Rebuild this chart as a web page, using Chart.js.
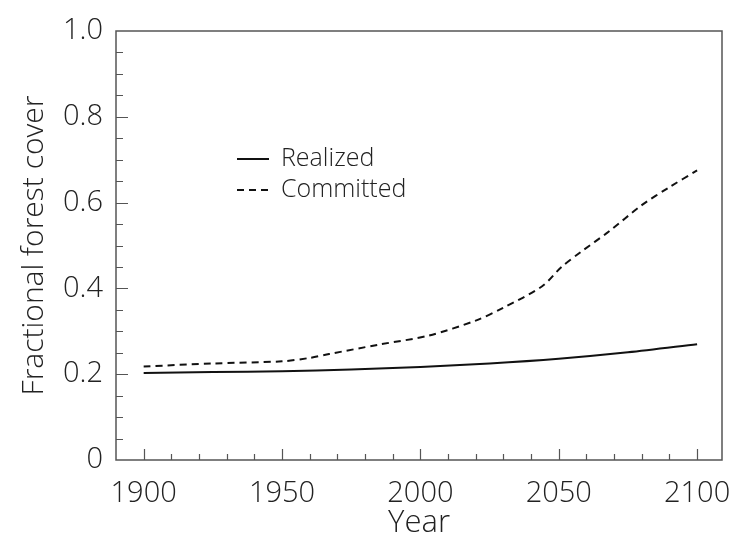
<!DOCTYPE html>
<html>
<head>
<meta charset="utf-8">
<script src="https://cdn.jsdelivr.net/npm/chart.js@4"></script>
<style>
  html, body { margin: 0; padding: 0; background: #fff; overflow: hidden; }
</style>
</head>
<body>
<canvas id="myChart" width="733" height="534"></canvas>
<script>
// data
const realizedYears = [1900, 1925, 1950, 1975, 2000, 2025, 2050, 2075, 2100];
const realizedValues = [0.203, 0.205, 0.207, 0.211, 0.217, 0.225, 0.236, 0.251, 0.270];

const committedYears = [1900, 1925, 1950, 1960, 1967, 1985, 2003, 2020, 2030, 2044, 2051, 2058, 2068, 2080, 2090, 2100];
const committedValues = [0.218, 0.225, 0.230, 0.238, 0.247, 0.269, 0.290, 0.325, 0.355, 0.405, 0.450, 0.485, 0.532, 0.594, 0.636, 0.675];

const xTicks = [1900, 1950, 2000, 2050, 2100];
const yTicks = [0, 0.2, 0.4, 0.6, 0.8, 1.0];
const xMinor = 10;
const yMinor = 0.05;

const seriesLabels = ["Realized", "Committed"];
const axisTitles = { x: "Year", y: "Fractional forest cover" };

const FONT = "'Open Sans', 'DejaVu Sans', sans-serif";
const INK = "#222";

const toPoints = (xs, ys) => xs.map((x, i) => ({ x: x, y: ys[i] }));

// frame + inward ticks + legend drawn inside the plot area
const frameAndTicks = {
  id: "frameAndTicks",
  afterDraw(chart) {
    const { ctx, chartArea: a, scales } = chart;
    const x = scales.x, y = scales.y;
    ctx.save();
    ctx.strokeStyle = "#555";
    ctx.lineWidth = 1.5;
    ctx.strokeRect(a.left, a.top, a.right - a.left, a.bottom - a.top);

    ctx.lineWidth = 1.2;
    ctx.beginPath();
    for (let v = 1900; v <= 2100; v += xMinor) {
      const px = Math.round(x.getPixelForValue(v)) + 0.5;
      const len = xTicks.includes(v) ? 11 : 6;
      ctx.moveTo(px, a.bottom);
      ctx.lineTo(px, a.bottom - len);
    }
    for (let k = 1; k < 20; k++) {
      const v = k * yMinor;
      const py = Math.round(y.getPixelForValue(v)) + 0.5;
      const major = k % 4 === 0;
      const len = major ? 12 : 7;
      ctx.moveTo(a.left, py);
      ctx.lineTo(a.left + len, py);
    }
    ctx.stroke();

    // legend
    const sets = chart.data.datasets;
    const lx = 237, ly = 159, gap = 31;
    ctx.font = "300 25px " + FONT;
    ctx.textBaseline = "middle";
    ctx.fillStyle = INK;
    sets.forEach((ds, i) => {
      const yy = ly + i * gap;
      ctx.strokeStyle = ds.borderColor;
      ctx.lineWidth = 2;
      ctx.setLineDash(ds.borderDash || []);
      ctx.beginPath();
      ctx.moveTo(lx, yy);
      ctx.lineTo(lx + 32, yy);
      ctx.stroke();
      ctx.setLineDash([]);
      ctx.fillText(ds.label, lx + 44, yy);
    });
    ctx.restore();
  },
};

const ctx = document.getElementById("myChart").getContext("2d");
const myChart = new Chart(ctx, {
  type: "line",
  data: {
    datasets: [
      {
        label: seriesLabels[0],
        data: toPoints(realizedYears, realizedValues),
        borderColor: "#111",
        borderWidth: 2,
        pointRadius: 0,
        tension: 0.3,
      },
      {
        label: seriesLabels[1],
        data: toPoints(committedYears, committedValues),
        borderColor: "#111",
        borderWidth: 2,
        borderDash: [7, 5],
        pointRadius: 0,
        tension: 0.3,
      },
    ],
  },
  options: {
    responsive: false,
    animation: false,
    maintainAspectRatio: false,
    devicePixelRatio: 1,
    layout: { padding: { top: 31, right: 11, left: 0, bottom: 0 } },
    plugins: {
      legend: { display: false },
      tooltip: { enabled: false },
    },
    scales: {
      x: {
        type: "linear",
        min: 1890,
        max: 2109,
        afterBuildTicks: (s) => { s.ticks = xTicks.map((v) => ({ value: v })); },
        afterFit: (s) => { s.height = 74; s.paddingLeft = 0; s.paddingRight = 0; },
        grid: { display: false, tickLength: 0 },
        border: { display: false },
        ticks: {
          color: INK,
          padding: 16,
          font: { family: FONT, size: 29, weight: 300 },
          callback: (v) => String(v),
          maxRotation: 0,
        },
        title: {
          display: true,
          text: axisTitles.x,
          color: INK,
          padding: { top: 0, bottom: -8 },
          font: { family: FONT, size: 31, weight: 300 },
        },
      },
      y: {
        min: 0,
        max: 1,
        afterBuildTicks: (s) => { s.ticks = yTicks.map((v) => ({ value: v })); },
        afterFit: (s) => { s.width = 116; s.paddingTop = 0; s.paddingBottom = 0; },
        grid: { display: false, tickLength: 0 },
        border: { display: false },
        ticks: {
          color: INK,
          padding: 13,
          font: { family: FONT, size: 29, weight: 300 },
          callback: (v) => (v === 0 ? "0" : v.toFixed(1)),
        },
        title: {
          display: true,
          text: axisTitles.y,
          color: INK,
          padding: { top: 16, bottom: 0 },
          font: { family: FONT, size: 30, weight: 300 },
        },
      },
    },
  },
  plugins: [frameAndTicks],
});
</script>
</body>
</html>
